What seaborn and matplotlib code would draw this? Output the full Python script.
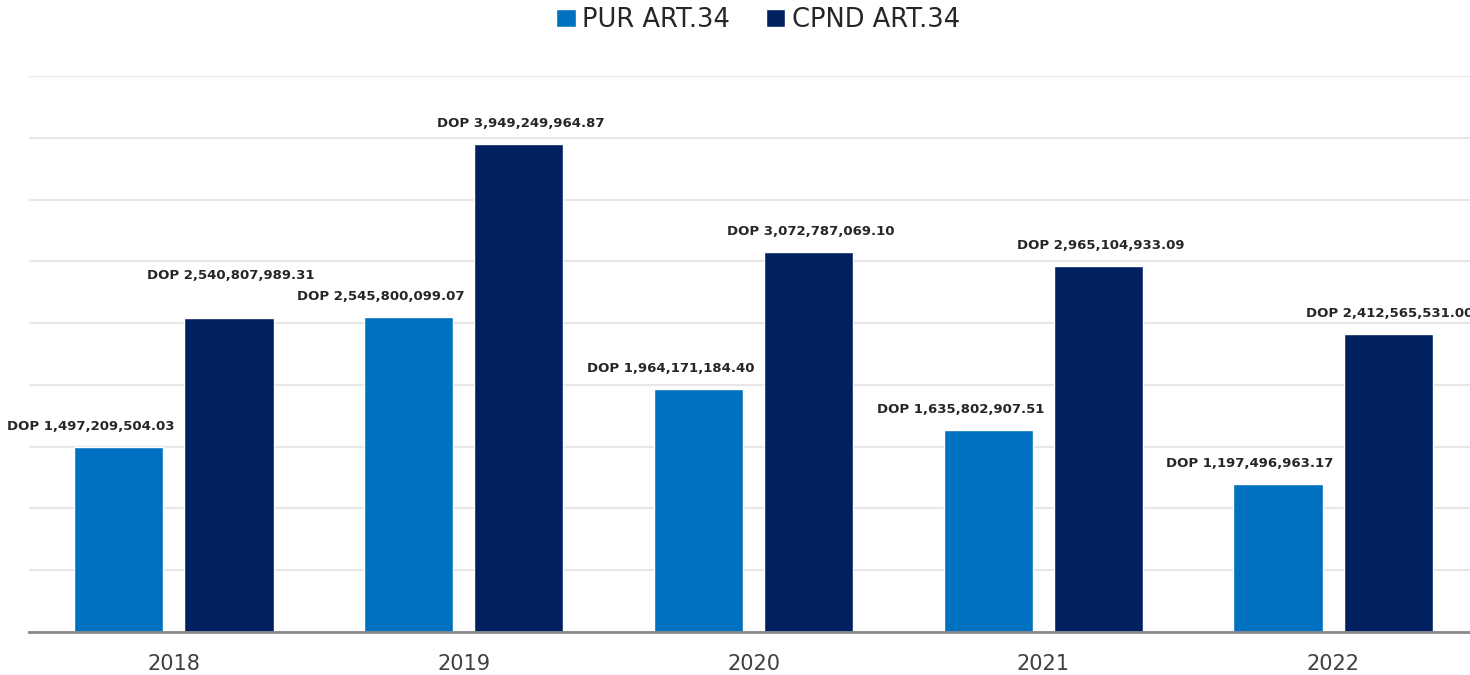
import matplotlib
matplotlib.use("Agg")
import matplotlib.pyplot as plt
import seaborn as sns
import pandas as pd

years = ["2018", "2019", "2020", "2021", "2022"]
pur_art34 = [1497209504.03, 2545800099.07, 1964171184.40, 1635802907.51, 1197496963.17]
cpnd_art34 = [2540807989.31, 3949249964.87, 3072787069.10, 2965104933.09, 2412565531.00]
series = ["PUR ART.34", "CPND ART.34"]
colors = ["#0070C0", "#002060"]

df = pd.DataFrame({
    "year": years * 2,
    "value": pur_art34 + cpnd_art34,
    "serie": [series[0]] * len(years) + [series[1]] * len(years),
})

sns.set_style("white")
plt.rcParams["font.family"] = ["DejaVu Sans"]

fig = plt.figure(figsize=(14.7, 6.75), dpi=100)
ax = fig.add_axes([29 / 1470, 43 / 675, 1449 / 1470, 556 / 675])

sns.barplot(data=df, x="year", y="value", hue="serie", palette=colors,
            width=0.76, gap=0.19, saturation=1, ax=ax, legend=True)

ax.set_xlim(-0.5, 4.5)
ax.set_ylim(0, 4.5e9)
ax.set_yticks([i * 0.5e9 for i in range(10)])
ax.yaxis.grid(True, color="#e6e6e6", linewidth=1.5)
ax.set_axisbelow(True)
ax.set_yticklabels([])
ax.tick_params(axis="y", length=0)
ax.tick_params(axis="x", length=0, labelsize=15, labelcolor="#404040", pad=16)
ax.set_xlabel("")
ax.set_ylabel("")
for s in ["top", "right", "left"]:
    ax.spines[s].set_visible(False)
ax.spines["bottom"].set_color("#898989")
ax.spines["bottom"].set_linewidth(2)

# value labels, PUR labels sit a bit left of the bar
nudge = {(1, 0): 22}
for si, cont in enumerate(ax.containers):
    for bi, bar in enumerate(cont):
        h = bar.get_height()
        x = bar.get_x() + bar.get_width() / 2
        dx = -28 if si == 0 else 2
        dy = 14 + nudge.get((si, bi), 0)
        ax.annotate(f"DOP {h:,.2f}", (x, h), xytext=(dx * 0.72, dy * 0.72),
                    textcoords="offset points", ha="center", va="bottom",
                    fontsize=9.5, fontweight="bold", color="#262626",
                    annotation_clip=False)

handles, labels = ax.get_legend_handles_labels()
ax.get_legend().remove()
fig.legend(handles, labels, loc="center", bbox_to_anchor=(758 / 1470, 1 - 20 / 675),
           ncol=2, frameon=False, fontsize=18.5, handlelength=0.75, handleheight=0.75,
           handletextpad=0.25, columnspacing=1.4, labelcolor="#262626")

fig.savefig("out.png", dpi=100)
